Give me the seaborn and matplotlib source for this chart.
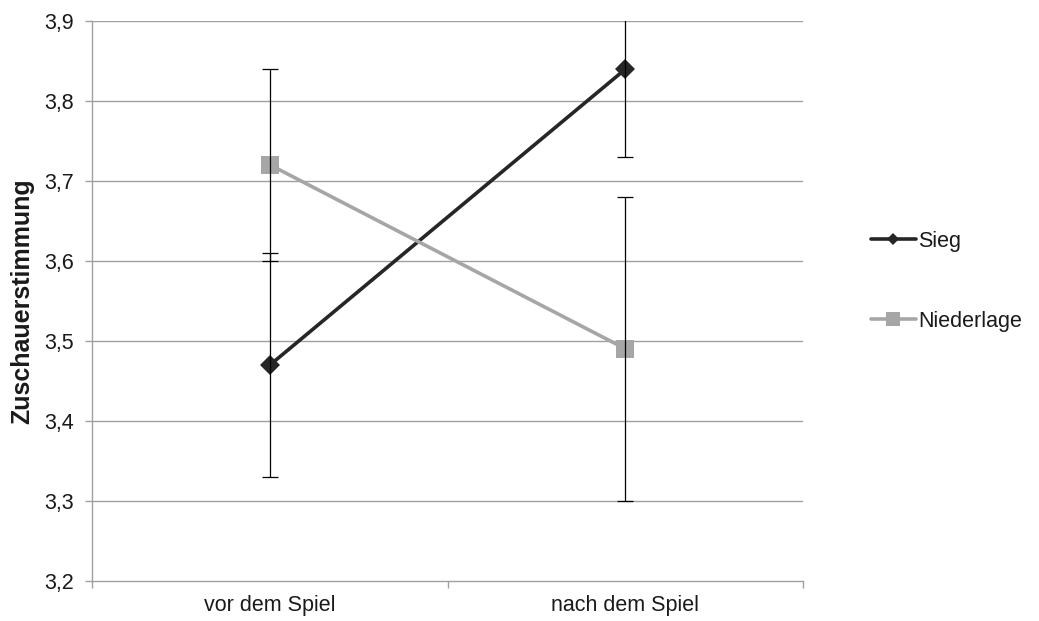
import matplotlib
matplotlib.use("Agg")
import matplotlib.pyplot as plt
import seaborn as sns
import pandas as pd
from matplotlib.ticker import FuncFormatter, FixedLocator

# Data
zeitpunkte = ["vor dem Spiel", "nach dem Spiel"]
sieg_mittel = [3.47, 3.84]
sieg_fehler = [0.14, 0.11]
niederlage_mittel = [3.72, 3.49]
niederlage_fehler = [0.12, 0.19]
gruppen = ["Sieg", "Niederlage"]
y_ticks = [3.2, 3.3, 3.4, 3.5, 3.6, 3.7, 3.8, 3.9]

df = pd.DataFrame({
    "Zeitpunkt": zeitpunkte * 2,
    "Gruppe": [gruppen[0]] * 2 + [gruppen[1]] * 2,
    "Wert": sieg_mittel + niederlage_mittel,
    "Fehler": sieg_fehler + niederlage_fehler,
})

sns.set_theme(style="white")
plt.rcParams["font.family"] = ["Liberation Sans", "DejaVu Sans"]

farben = {"Sieg": "#262626", "Niederlage": "#a6a6a6"}
marker = {"Sieg": "D", "Niederlage": "s"}
msize = {"Sieg": 10.5, "Niederlage": 13}
legend_msize = {"Sieg": 6.5, "Niederlage": 10}

fig = plt.figure(figsize=(10.39, 6.21), dpi=100)
ax = fig.add_axes([0.089, 0.065, 0.684, 0.901])

grid_col = "#a0a0a0"
text_col = "#1a1a1a"
for y in y_ticks[1:]:
    ax.axhline(y, color=grid_col, lw=1.0, zorder=0)

for g in gruppen:
    sub = df[df["Gruppe"] == g]
    sns.lineplot(data=sub, x="Zeitpunkt", y="Wert", ax=ax, color=farben[g],
                 lw=2.6, marker=marker[g], markersize=msize[g],
                 markeredgewidth=0, label=g, sort=False, zorder=3)
    ax.errorbar(range(len(sub)), sub["Wert"], yerr=sub["Fehler"], fmt="none",
                ecolor="black", elinewidth=0.9, capsize=5.5, capthick=0.9,
                zorder=4)

ax.set_xlim(-0.5, 1.5)
ax.set_ylim(3.2, 3.9)
ax.set_xticks([0, 1])
ax.set_xticklabels(zeitpunkte, fontsize=15.5, color=text_col)
ax.xaxis.set_minor_locator(FixedLocator([-0.5, 0.5, 1.5]))
ax.tick_params(axis="x", which="major", length=0, pad=10)
ax.tick_params(axis="x", which="minor", length=5, width=1, color=grid_col,
               direction="out", bottom=True)
ax.set_yticks(y_ticks)
ax.yaxis.set_major_formatter(FuncFormatter(lambda v, p: f"{v:.1f}".replace(".", ",")))
ax.tick_params(axis="y", length=5, width=1, color=grid_col, labelsize=15.5,
               labelcolor=text_col, left=True, pad=8.5)

for s in ["top", "right"]:
    ax.spines[s].set_visible(False)
for s in ["left", "bottom"]:
    ax.spines[s].set_color(grid_col)
    ax.spines[s].set_linewidth(1.0)

ax.set_xlabel("")
ax.set_ylabel("Zuschauerstimmung", fontsize=18, fontweight="bold", labelpad=7,
              color=text_col)

handles, labels = ax.get_legend_handles_labels()
leg = ax.legend(handles, labels, loc="center left", bbox_to_anchor=(1.083, 0.535),
                frameon=False, fontsize=15.5, handlelength=2.1, handletextpad=0.12,
                labelspacing=2.75, borderaxespad=0)
for line, lab in zip(leg.get_lines(), labels):
    line.set_markersize(legend_msize[lab])
for t in leg.get_texts():
    t.set_color(text_col)

fig.savefig("out.png", dpi=100, facecolor="white")
